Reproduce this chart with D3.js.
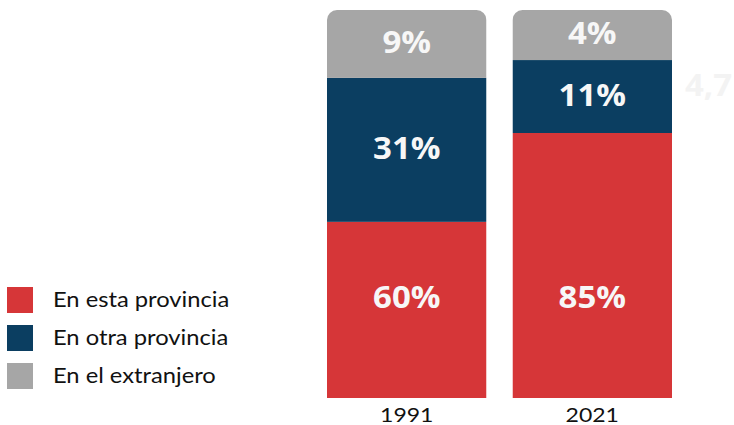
<!DOCTYPE html>
<html>
<head>
<meta charset="utf-8">
<script src="https://cdn.jsdelivr.net/npm/d3@7"></script>
<style>
  body { margin: 0; background: #fff; }
  svg { display: block; }
</style>
</head>
<body>
<svg id="chart" width="734" height="425"></svg>
<script>
// data
const years = ["1991", "2021"];
const categories = ["En esta provincia", "En otra provincia", "En el extranjero"];
// printed percentages (bottom to top)
const values1991 = [60, 31, 9];
const values2021 = [85, 11, 4];
// share of bar height each segment takes as drawn (the graphic is not to scale)
const drawn1991 = [45.4, 37.1, 17.5];
const drawn2021 = [68.3, 18.8, 12.9];
const colors = ["#d63638", "#0b3e61", "#a6a6a6"];

// the original art is a bit wider than tall, so texts are stretched sideways
const stretch = 1.1;

const rows = years.map((yr, i) => {
  const v = i === 0 ? values1991 : values2021;
  const d = i === 0 ? drawn1991 : drawn2021;
  const r = {year: yr};
  categories.forEach((c, j) => { r[c] = d[j]; r["lab" + j] = v[j]; });
  return r;
});

const svg = d3.select("#chart");
const x = d3.scaleBand().domain(years).range([314, 685]).paddingInner(0.14).paddingOuter(0.07);
const y = d3.scaleLinear().domain([0, 100]).range([398, 10]);
const color = d3.scaleOrdinal().domain(categories).range(colors);

const stack = d3.stack().keys(categories)(rows);

// clip each bar so its top corners are rounded
const defs = svg.append("defs");
years.forEach((yr, i) => {
  defs.append("clipPath").attr("id", "clip" + i)
    .append("rect")
    .attr("x", x(yr)).attr("y", y(100))
    .attr("width", x.bandwidth()).attr("height", y(0) - y(100) + 20)
    .attr("rx", 10);
});

const layers = svg.selectAll("g.layer")
  .data(stack)
  .join("g")
  .attr("class", "layer")
  .attr("fill", d => color(d.key));

layers.selectAll("rect")
  .data(d => d)
  .join("rect")
  .attr("clip-path", (d, i) => `url(#clip${i})`)
  .attr("x", d => x(d.data.year))
  .attr("y", d => y(d[1]))
  .attr("width", x.bandwidth())
  .attr("height", d => y(d[0]) - y(d[1]));

// percentage labels
layers.each(function(layer, j) {
  d3.select(this).selectAll("text")
    .data(layer)
    .join("text")
    .attr("transform", d => {
      const cx = x(d.data.year) + x.bandwidth() / 2;
      const cy = j === 0 ? 308 : (y(d[0]) + y(d[1])) / 2 + 9;
      return `translate(${cx},${cy}) scale(${stretch},1)`;
    })
    .attr("text-anchor", "middle")
    .attr("fill", "#f7f7f7")
    .style("font-family", "'Open Sans', sans-serif")
    .style("font-weight", 700)
    .style("font-size", "30px")
    .text(d => d.data["lab" + j] + "%");
});

// year axis
const axis = svg.append("g")
  .attr("transform", "translate(0,398)")
  .call(d3.axisBottom(x).tickSize(0).tickPadding(10));
axis.select(".domain").remove();
axis.selectAll("text")
  .attr("transform", "scale(1.18,1)")
  .style("font-family", "Lato, sans-serif")
  .style("font-size", "19.5px")
  .attr("fill", "#111");

// faint cut-off text on the right edge
svg.append("text")
  .attr("transform", `translate(685,96) scale(${stretch},1)`)
  .attr("fill", "#f3f3f3")
  .style("font-family", "'Open Sans', sans-serif")
  .style("font-weight", 700)
  .style("font-size", "30px")
  .text("4,7");

// legend
const legend = svg.append("g").attr("transform", "translate(7,287)");
const item = legend.selectAll("g")
  .data(categories)
  .join("g")
  .attr("transform", (d, i) => `translate(0,${i * 38})`);
item.append("rect")
  .attr("width", 26).attr("height", 26)
  .attr("fill", d => color(d));
item.append("text")
  .attr("transform", "translate(46,20) scale(1.13,1)")
  .style("font-family", "Lato, sans-serif")
  .style("font-size", "21px")
  .attr("fill", "#111")
  .text(d => d);
</script>
</body>
</html>
